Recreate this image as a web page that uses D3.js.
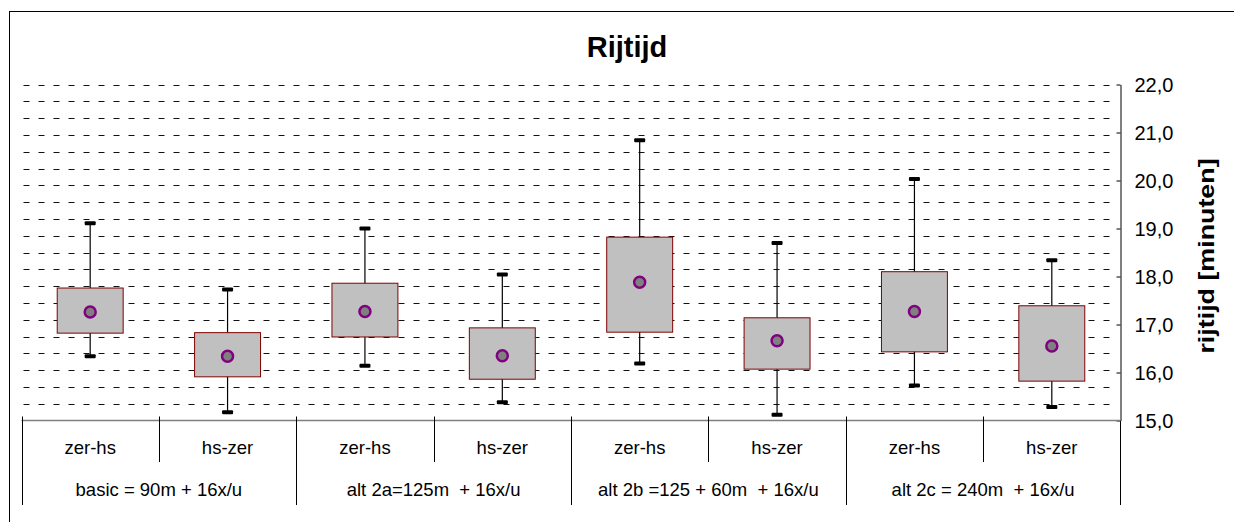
<!DOCTYPE html>
<html>
<head>
<meta charset="utf-8">
<script src="https://cdn.jsdelivr.net/npm/d3@7"></script>
<style>
  body { margin: 0; background: #fff; }
  svg text { font-family: Arial, "Liberation Sans", sans-serif; fill: #000; }
</style>
</head>
<body>
<div id="graphic"></div>
<script>
// box plot data per category (zer-hs / hs-zer for each alternative)
const groups = ['basic = 90m + 16x/u', 'alt 2a=125m  + 16x/u', 'alt 2b =125 + 60m  + 16x/u', 'alt 2c = 240m  + 16x/u'];
const directions = ['zer-hs', 'hs-zer'];
const whiskerMax = [19.11, 17.73, 19.00, 18.04, 20.84, 18.70, 20.03, 18.34];
const q3 = [17.76, 16.83, 17.86, 16.93, 18.82, 17.14, 18.10, 17.39];
const q1 = [16.82, 15.91, 16.74, 15.86, 16.84, 16.07, 16.43, 15.82];
const whiskerMin = [16.34, 15.17, 16.14, 15.38, 16.19, 15.12, 15.73, 15.28];
const means = [17.26, 16.34, 17.27, 16.35, 17.88, 16.66, 17.27, 16.55];
const yTicks = [15, 16, 17, 18, 19, 20, 21, 22];

const width = 1234, height = 522;
const plot = { left: 21.5, right: 1120.5, top: 84.5, bottom: 420.5 };

const svg = d3.select('#graphic').append('svg')
  .attr('width', width).attr('height', height);

// outer chart border (runs off the right/bottom edge)
svg.append('rect')
  .attr('x', 9.5).attr('y', 11.5)
  .attr('width', 1240).attr('height', 530)
  .attr('fill', 'none').attr('stroke', '#000');

const cats = d3.range(groups.length * directions.length);

const x = d3.scaleBand()
  .domain(cats)
  .range([plot.left, plot.right])
  .padding(0);

const y = d3.scaleLinear()
  .domain([15, 22])
  .range([plot.bottom, plot.top]);

// minor dashed gridlines, every 0.35
const gridVals = d3.range(1, 21).map(k => 15 + k * 0.35);
svg.append('g')
  .selectAll('line')
  .data(gridVals)
  .join('line')
  .attr('x1', plot.left + 2).attr('x2', plot.right - 4)
  .attr('y1', d => Math.round(y(d)) + 0.5).attr('y2', d => Math.round(y(d)) + 0.5)
  .attr('stroke', '#111')
  .attr('stroke-width', 1)
  .attr('stroke-dasharray', '6,9');

// right y axis
const yAxis = svg.append('g')
  .attr('transform', `translate(${plot.right},0)`)
  .call(d3.axisRight(y).tickValues(yTicks).tickSizeInner(-4).tickSizeOuter(0)
    .tickFormat(d => d3.format('.1f')(d).replace('.', ',')));
yAxis.select('.domain').attr('stroke', '#000');
yAxis.selectAll('.tick line').attr('stroke', '#000');
yAxis.selectAll('.tick text')
  .attr('x', 14)
  .attr('dy', '0.35em')
  .style('font-size', '20px')
  .style('font-family', 'Arial, "Liberation Sans", sans-serif')
  .attr('fill', '#000');
svg.append('line')
  .attr('x1', plot.right).attr('x2', plot.right)
  .attr('y1', plot.bottom).attr('y2', 505)
  .attr('stroke', '#000');

// bottom axis line and category table lines
svg.append('line')
  .attr('x1', plot.left).attr('x2', plot.right)
  .attr('y1', plot.bottom).attr('y2', plot.bottom)
  .attr('stroke', '#808080').attr('stroke-width', 1.5);

cats.forEach(i => {
  const xs = Math.round(x(i)) + 0.5;
  const isGroupEdge = i % directions.length === 0;
  svg.append('line')
    .attr('x1', xs).attr('x2', xs)
    .attr('y1', plot.bottom - 4).attr('y2', isGroupEdge ? 505 : 462)
    .attr('stroke', '#000');
});

// category labels
svg.append('g')
  .selectAll('text')
  .data(cats)
  .join('text')
  .attr('x', d => x(d) + x.bandwidth() / 2)
  .attr('y', 454)
  .attr('text-anchor', 'middle')
  .style('font-size', '18.5px')
  .text(d => directions[d % directions.length]);

// group labels
svg.append('g')
  .selectAll('text')
  .data(groups)
  .join('text')
  .attr('x', (d, i) => x(i * 2) + x.bandwidth())
  .attr('y', 496)
  .attr('text-anchor', 'middle')
  .style('font-size', '18.5px')
  .style('white-space', 'pre')
  .text(d => d);

// boxes
const boxW = x.bandwidth() * 0.48;
const capW = 11, capH = 4;
const boxes = svg.append('g').selectAll('g')
  .data(cats)
  .join('g')
  .attr('transform', d => `translate(${x(d) + x.bandwidth() / 2},0)`);

boxes.append('line')
  .attr('x1', 0).attr('x2', 0)
  .attr('y1', d => y(whiskerMax[d])).attr('y2', d => y(whiskerMin[d]))
  .attr('stroke', '#000').attr('stroke-width', 1.2);

boxes.append('rect')
  .attr('x', -boxW / 2)
  .attr('y', d => y(q3[d]))
  .attr('width', boxW)
  .attr('height', d => y(q1[d]) - y(q3[d]))
  .attr('fill', '#C0C0C0')
  .attr('stroke', '#800000')
  .attr('stroke-width', 1);

boxes.append('rect')
  .attr('x', -capW / 2)
  .attr('y', d => y(whiskerMax[d]) - capH / 2)
  .attr('width', capW).attr('height', capH)
  .attr('rx', 1)
  .attr('fill', '#000');

boxes.append('rect')
  .attr('x', -capW / 2)
  .attr('y', d => y(whiskerMin[d]) - capH / 2)
  .attr('width', capW).attr('height', capH)
  .attr('rx', 1)
  .attr('fill', '#000');

boxes.append('circle')
  .attr('cx', 0)
  .attr('cy', d => y(means[d]))
  .attr('r', 5.5)
  .attr('fill', '#808080')
  .attr('stroke', '#800080')
  .attr('stroke-width', 2.5);

// title
svg.append('text')
  .attr('x', 627).attr('y', 57)
  .attr('text-anchor', 'middle')
  .style('font-size', '29px')
  .style('font-weight', 'bold')
  .text('Rijtijd');

// y axis label
svg.append('text')
  .attr('transform', 'translate(1214,256) rotate(-90) scale(1.22,1)')
  .attr('text-anchor', 'middle')
  .style('font-size', '22px')
  .style('font-weight', 'bold')
  .text('rijtijd [minuten]');
</script>
</body>
</html>
